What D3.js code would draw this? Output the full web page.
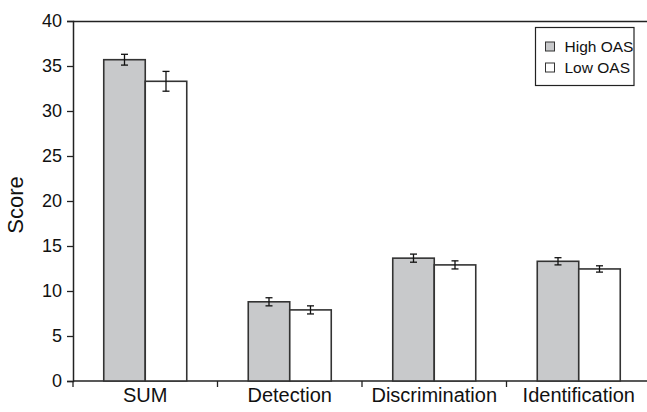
<!DOCTYPE html>
<html>
<head>
<meta charset="utf-8">
<script src="https://cdn.jsdelivr.net/npm/d3@7"></script>
<style>
  body { margin: 0; background: #fff; }
  text { font-family: "Liberation Sans", Arial, sans-serif; fill: #111; }
</style>
</head>
<body>
<div id="chart"></div>
<script>
// data
var categories = ["SUM", "Detection", "Discrimination", "Identification"];
var seriesNames = ["High OAS", "Low OAS"];
var highOAS = [35.7, 8.8, 13.65, 13.3];
var lowOAS = [33.3, 7.9, 12.9, 12.45];
var highErr = [0.6, 0.45, 0.45, 0.4];
var lowErr = [1.1, 0.45, 0.45, 0.35];
var yTicks = [0, 5, 10, 15, 20, 25, 30, 35, 40];

var W = 647, H = 412;
var margin = { top: 21, right: -4, bottom: 31, left: 73 },
  width = W - margin.left - margin.right,
  height = H - margin.top - margin.bottom;

var colors = ["#c8c9cb", "#ffffff"];

var svg = d3
  .select("#chart")
  .append("svg")
  .attr("width", W)
  .attr("height", H);

var g = svg
  .append("g")
  .attr("transform", "translate(" + margin.left + "," + margin.top + ")");

var x0 = d3.scaleBand().domain(categories).range([0, width]);
var barW = 41.5;
var x1 = d3
  .scaleBand()
  .domain(seriesNames)
  .range([x0.bandwidth() / 2 - barW, x0.bandwidth() / 2 + barW]);

var y = d3.scaleLinear().domain([0, 40]).range([height, 0]);

// top border line
g.append("line")
  .attr("x1", 0)
  .attr("x2", width)
  .attr("y1", 0.5)
  .attr("y2", 0.5)
  .style("stroke", "#222")
  .style("stroke-width", 1.3);

// y axis
var yAxis = g
  .append("g")
  .call(d3.axisLeft(y).tickValues(yTicks).tickSize(6).tickPadding(5));
yAxis.select(".domain").style("stroke", "#222").style("stroke-width", 1.5);
yAxis.selectAll(".tick line").style("stroke", "#222").style("stroke-width", 1.3);
yAxis
  .selectAll(".tick text")
  .style("font-size", "18px")
  .style("font-family", "Liberation Sans, Arial, sans-serif")
  .style("fill", "#111");

// x axis (ticks at band boundaries)
var xg = g.append("g").attr("transform", "translate(0," + height + ")");
xg.append("line")
  .attr("x1", 0)
  .attr("x2", width)
  .style("stroke", "#222")
  .style("stroke-width", 1.5);
xg.selectAll(".xtick")
  .data(categories)
  .enter()
  .append("line")
  .attr("x1", function (d) { return x0(d); })
  .attr("x2", function (d) { return x0(d); })
  .attr("y1", 0)
  .attr("y2", 6)
  .style("stroke", "#222")
  .style("stroke-width", 1.3);
xg.selectAll(".xlab")
  .data(categories)
  .enter()
  .append("text")
  .attr("x", function (d) { return x0(d) + x0.bandwidth() / 2; })
  .attr("y", 21)
  .attr("text-anchor", "middle")
  .style("font-size", "20px")
  .text(function (d) { return d; });

// y axis title
svg
  .append("text")
  .attr("transform", "translate(23,205) rotate(-90)")
  .attr("text-anchor", "middle")
  .style("font-size", "22px")
  .text("Score");

// bars
var rows = categories.map(function (c, i) {
  return [
    { cat: c, s: seriesNames[0], v: highOAS[i], e: highErr[i], k: 0 },
    { cat: c, s: seriesNames[1], v: lowOAS[i], e: lowErr[i], k: 1 }
  ];
});

var groups = g
  .selectAll(".grp")
  .data(rows)
  .enter()
  .append("g")
  .attr("transform", function (d) { return "translate(" + x0(d[0].cat) + ",0)"; });

groups
  .selectAll("rect")
  .data(function (d) { return d; })
  .enter()
  .append("rect")
  .attr("x", function (d) { return x1(d.s); })
  .attr("y", function (d) { return y(d.v); })
  .attr("width", x1.bandwidth())
  .attr("height", function (d) { return height - y(d.v); })
  .style("fill", function (d) { return colors[d.k]; })
  .style("stroke", "#333")
  .style("stroke-width", 1.6);

// error bars
var eb = groups
  .selectAll(".err")
  .data(function (d) { return d; })
  .enter()
  .append("g")
  .attr("transform", function (d) {
    return "translate(" + (x1(d.s) + x1.bandwidth() / 2) + ",0)";
  })
  .style("stroke", "#111")
  .style("stroke-width", 1.3);
eb.append("line")
  .attr("y1", function (d) { return y(d.v + d.e); })
  .attr("y2", function (d) { return y(d.v - d.e); });
eb.append("line")
  .attr("x1", -3.5).attr("x2", 3.5)
  .attr("y1", function (d) { return y(d.v + d.e); })
  .attr("y2", function (d) { return y(d.v + d.e); });
eb.append("line")
  .attr("x1", -3.5).attr("x2", 3.5)
  .attr("y1", function (d) { return y(d.v - d.e); })
  .attr("y2", function (d) { return y(d.v - d.e); });

// legend
var lg = svg.append("g").attr("transform", "translate(535.5,27.5)");
lg.append("rect")
  .attr("width", 98.5)
  .attr("height", 58)
  .style("fill", "#fff")
  .style("stroke", "#222")
  .style("stroke-width", 1.2);
var items = lg
  .selectAll(".li")
  .data(seriesNames)
  .enter()
  .append("g")
  .attr("transform", function (d, i) { return "translate(10," + (14.5 + i * 21) + ")"; });
items.append("rect")
  .attr("width", 9)
  .attr("height", 9)
  .style("fill", function (d, i) { return colors[i]; })
  .style("stroke", "#333")
  .style("stroke-width", 1);
items.append("text")
  .attr("x", 19)
  .attr("y", 9.5)
  .style("font-size", "15.5px")
  .text(function (d) { return d; });
</script>
</body>
</html>
